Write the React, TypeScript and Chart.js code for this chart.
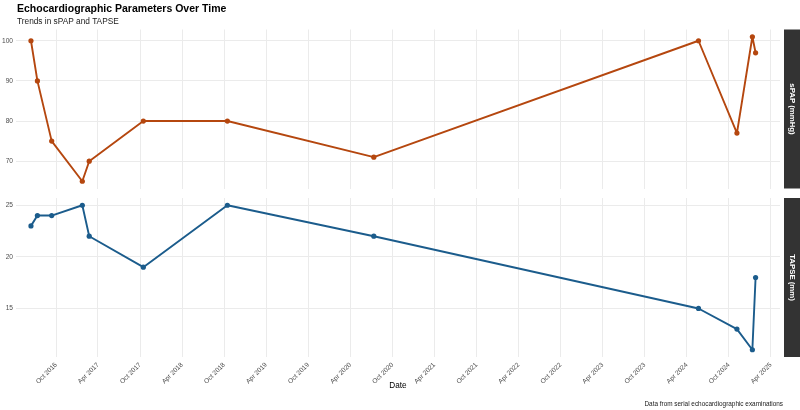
import React, { useEffect, useRef } from "react";
import { Chart, registerables } from "chart.js";

Chart.register(...registerables);

// ---- Data ----
const examDates = [
  "2016-06-14", "2016-07-12", "2016-09-12", "2017-01-23", "2017-02-22", "2017-10-15",
  "2018-10-15", "2020-07-12", "2024-05-22", "2024-11-05", "2025-01-11", "2025-01-25",
];
const spapValues = [100, 90, 75, 65, 70, 80, 80, 71, 100, 77, 101, 97];
const tapseValues = [23, 24, 24, 25, 22, 19, 25, 22, 15, 13, 11, 18];

const dateTickDates = [
  "2016-10-01", "2017-04-01", "2017-10-01", "2018-04-01", "2018-10-01", "2019-04-01",
  "2019-10-01", "2020-04-01", "2020-10-01", "2021-04-01", "2021-10-01", "2022-04-01",
  "2022-10-01", "2023-04-01", "2023-10-01", "2024-04-01", "2024-10-01", "2025-04-01",
];
const dateTickLabels = [
  "Oct 2016", "Apr 2017", "Oct 2017", "Apr 2018", "Oct 2018", "Apr 2019",
  "Oct 2019", "Apr 2020", "Oct 2020", "Apr 2021", "Oct 2021", "Apr 2022",
  "Oct 2022", "Apr 2023", "Oct 2023", "Apr 2024", "Oct 2024", "Apr 2025",
];
const spapTicks = [70, 80, 90, 100];
const tapseTicks = [15, 20, 25];

const X_RANGE = ["2016-04-10", "2025-05-11"];
const SPAP_RANGE = [63.2, 102.8];
const TAPSE_RANGE = [10.3, 25.7];

const TITLE = "Echocardiographic Parameters Over Time";
const SUBTITLE = "Trends in sPAP and TAPSE";
const X_TITLE = "Date";
const CAPTION = "Data from serial echocardiographic examinations";
const SPAP_STRIP = "sPAP (mmHg)";
const TAPSE_STRIP = "TAPSE (mm)";

// ---- Helpers ----
const FAMILY = '"Liberation Sans", Arial, Helvetica, sans-serif';
const toDay = (s: string) => Date.parse(s + "T00:00:00Z") / 86400000;
const examDays = examDates.map(toDay);
const tickDays = dateTickDates.map(toDay);

const SPAP_COLOR = "#B5470F";
const TAPSE_COLOR = "#1B5C8C";
const GRID = "#EBEBEB";
const STRIP_BG = "#333333";

type PanelCfg = {
  values: number[];
  color: string;
  range: number[];
  yTicks: number[];
  strip: string;
  padTop: number;
  padBottom: number;
  xHeight: number;
  showX: boolean;
  extra?: (chart: any) => void;
};

function buildPanel(canvas: HTMLCanvasElement, p: PanelCfg) {
  const decor = {
    id: "decor",
    afterDraw(chart: any) {
      const { ctx, chartArea } = chart;
      ctx.save();
      ctx.fillStyle = STRIP_BG;
      ctx.fillRect(784, chartArea.top, 16, chartArea.bottom - chartArea.top);
      ctx.translate(791.8, (chartArea.top + chartArea.bottom) / 2);
      ctx.rotate(Math.PI / 2);
      ctx.fillStyle = "#FFFFFF";
      ctx.font = `bold 7.8px ${FAMILY}`;
      ctx.textAlign = "center";
      ctx.textBaseline = "middle";
      ctx.fillText(p.strip, 0, 0);
      ctx.restore();
      if (p.extra) p.extra(chart);
    },
  };

  return new Chart(canvas, {
    type: "line",
    data: {
      datasets: [
        {
          data: examDays.map((x, i) => ({ x, y: p.values[i] })),
          borderColor: p.color,
          backgroundColor: p.color,
          pointBackgroundColor: p.color,
          pointBorderWidth: 0,
          pointRadius: 2.6,
          borderWidth: 1.9,
          tension: 0,
          fill: false,
          borderJoinStyle: "round",
          borderCapStyle: "round",
        },
      ],
    },
    options: {
      responsive: false,
      animation: false,
      devicePixelRatio: 1,
      layout: {
        autoPadding: false,
        padding: { left: 0, right: 20, top: p.padTop, bottom: p.padBottom },
      },
      plugins: {
        legend: { display: false },
        tooltip: { enabled: false },
        title: { display: false },
      },
      scales: {
        x: {
          type: "linear",
          min: toDay(X_RANGE[0]),
          max: toDay(X_RANGE[1]),
          afterBuildTicks: (s: any) => {
            s.ticks = tickDays.map((v) => ({ value: v }));
          },
          afterFit: (s: any) => {
            s.height = p.xHeight;
            s.paddingLeft = 0;
            s.paddingRight = 0;
          },
          ticks: {
            display: p.showX,
            autoSkip: false,
            minRotation: 45,
            maxRotation: 45,
            padding: 4,
            color: "#4D4D4D",
            font: { family: FAMILY, size: 6.6 },
            callback: (v: any) => {
              const i = tickDays.indexOf(Number(v));
              return i >= 0 ? dateTickLabels[i] : "";
            },
          },
          grid: { color: GRID, lineWidth: 1, drawTicks: false },
          border: { display: false },
          title: {
            display: p.showX,
            text: X_TITLE,
            color: "#000000",
            font: { family: FAMILY, size: 8.2 },
            padding: { top: 0, bottom: 19 },
          },
        },
        y: {
          type: "linear",
          min: p.range[0],
          max: p.range[1],
          afterBuildTicks: (s: any) => {
            s.ticks = p.yTicks.map((v) => ({ value: v }));
          },
          afterFit: (s: any) => {
            s.width = 16;
            s.paddingTop = 0;
            s.paddingBottom = 0;
          },
          ticks: {
            padding: 3,
            color: "#4D4D4D",
            font: { family: FAMILY, size: 6.6 },
            callback: (v: any) => String(v),
          },
          grid: { color: GRID, lineWidth: 1, drawTicks: false },
          border: { display: false },
        },
      },
    } as any,
    plugins: [decor],
  });
}

export default function App() {
  const topRef = useRef<HTMLCanvasElement>(null);
  const botRef = useRef<HTMLCanvasElement>(null);

  useEffect(() => {
    const top = buildPanel(topRef.current!, {
      values: spapValues,
      color: SPAP_COLOR,
      range: SPAP_RANGE,
      yTicks: spapTicks,
      strip: SPAP_STRIP,
      padTop: 29.5,
      padBottom: 1.5,
      xHeight: 0,
      showX: false,
      extra: (chart: any) => {
        const { ctx } = chart;
        ctx.save();
        ctx.textAlign = "left";
        ctx.textBaseline = "alphabetic";
        ctx.fillStyle = "#000000";
        ctx.font = `bold 10.5px ${FAMILY}`;
        ctx.fillText(TITLE, 17, 11.5);
        ctx.fillStyle = "#1A1A1A";
        ctx.font = `8.3px ${FAMILY}`;
        ctx.fillText(SUBTITLE, 17, 24);
        ctx.restore();
      },
    });
    const bottom = buildPanel(botRef.current!, {
      values: tapseValues,
      color: TAPSE_COLOR,
      range: TAPSE_RANGE,
      yTicks: tapseTicks,
      strip: TAPSE_STRIP,
      padTop: 8,
      padBottom: 0,
      xHeight: 53,
      showX: true,
      extra: (chart: any) => {
        const { ctx } = chart;
        ctx.save();
        ctx.textAlign = "right";
        ctx.textBaseline = "alphabetic";
        ctx.fillStyle = "#1A1A1A";
        ctx.font = `6.4px ${FAMILY}`;
        ctx.fillText(CAPTION, 783, 215.5);
        ctx.restore();
      },
    });
    return () => {
      top.destroy();
      bottom.destroy();
    };
  }, []);

  return (
    <div style={{ position: "absolute", left: 0, top: 0, width: 800, height: 410, background: "#FFFFFF" }}>
      <canvas
        ref={topRef}
        width={800}
        height={190}
        style={{ position: "absolute", left: 0, top: 0, width: 800, height: 190 }}
      />
      <canvas
        ref={botRef}
        width={800}
        height={220}
        style={{ position: "absolute", left: 0, top: 190, width: 800, height: 220 }}
      />
    </div>
  );
}
